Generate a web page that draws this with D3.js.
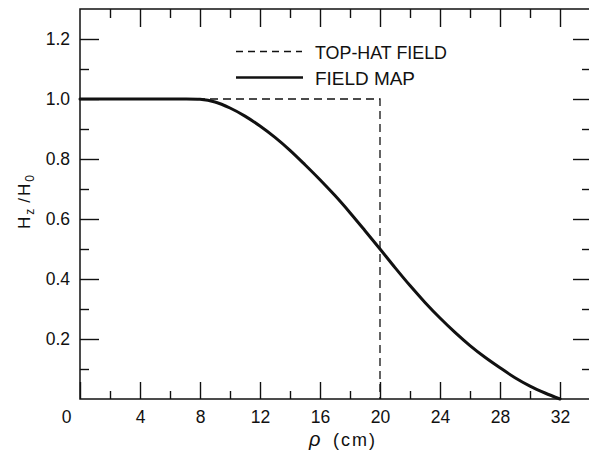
<!DOCTYPE html>
<html>
<head>
<meta charset="utf-8">
<script src="https://cdn.jsdelivr.net/npm/d3@7"></script>
<style>
  html, body { margin: 0; padding: 0; background: #fff; }
  svg { display: block; }
  text { font-family: "Liberation Sans", "DejaVu Sans", sans-serif; fill: #111; }
</style>
</head>
<body>
<svg id="chart" width="589" height="455"></svg>
<script>
// ---- data ----
const rho = [0, 2, 4, 6, 8, 9, 10, 11, 12, 13, 14, 15, 16, 17, 18, 19, 20, 21, 22, 23, 24, 25, 26, 27, 28, 29, 30, 31, 32];
const fieldMap = [1, 1, 1, 1, 0.999, 0.99, 0.97, 0.943, 0.91, 0.872, 0.829, 0.781, 0.731, 0.678, 0.621, 0.561, 0.500, 0.438, 0.378, 0.322, 0.270, 0.222, 0.178, 0.139, 0.104, 0.071, 0.043, 0.020, 0.0];
const topHatRho = [0, 20, 20];
const topHatVal = [1, 1, 0];
const xMajorTicks = [0, 4, 8, 12, 16, 20, 24, 28, 32];
const xMinorTicks = [2, 6, 10, 14, 18, 22, 26, 30];
const yMajorTicks = [0.2, 0.4, 0.6, 0.8, 1.0, 1.2];
const yMinorTicks = [0.1, 0.3, 0.5, 0.7, 0.9, 1.1];
const legendLabels = ["TOP-HAT FIELD", "FIELD MAP"];

// ---- layout ----
const svg = d3.select("#chart");
const L = 80, R = 590, T = 9, B = 399;
const x = d3.scaleLinear().domain([0, 34]).range([L, R]);
const y = d3.scaleLinear().domain([0, 1.3]).range([B, T]);
const ink = "#111";

// frame
svg.append("rect").attr("x", L).attr("y", T).attr("width", R - L).attr("height", B - T)
  .attr("fill", "none").attr("stroke", ink).attr("stroke-width", 1.5);

function styleAxis(g) {
  g.select(".domain").remove();
  g.selectAll(".tick line").attr("stroke", ink).attr("stroke-width", 1.4);
  g.selectAll(".tick text").style("font-size", "17.5px").attr("fill", ink);
}

// bottom axis
const gxB = svg.append("g").attr("transform", `translate(0,${B})`)
  .call(d3.axisBottom(x).tickValues(xMajorTicks).tickSize(-17).tickPadding(12).tickFormat(d3.format("d")))
  .call(styleAxis);
gxB.selectAll(".tick text").filter(d => d === 0).attr("x", -14);
svg.append("g").attr("transform", `translate(0,${B})`)
  .call(d3.axisBottom(x).tickValues(xMinorTicks).tickSize(-8).tickFormat(""))
  .call(styleAxis);
// top axis
svg.append("g").attr("transform", `translate(0,${T})`)
  .call(d3.axisTop(x).tickValues(xMajorTicks.filter(d => d > 0)).tickSize(-18).tickFormat(""))
  .call(styleAxis);
svg.append("g").attr("transform", `translate(0,${T})`)
  .call(d3.axisTop(x).tickValues(xMinorTicks).tickSize(-9).tickFormat(""))
  .call(styleAxis);
// left axis
svg.append("g").attr("transform", `translate(${L},0)`)
  .call(d3.axisLeft(y).tickValues(yMajorTicks).tickSize(-19).tickPadding(10).tickFormat(d3.format(".1f")))
  .call(styleAxis);
svg.append("g").attr("transform", `translate(${L},0)`)
  .call(d3.axisLeft(y).tickValues(yMinorTicks).tickSize(-9).tickFormat(""))
  .call(styleAxis);
// right axis
svg.append("g").attr("transform", `translate(${R},0)`)
  .call(d3.axisRight(y).tickValues(yMajorTicks).tickSize(-17).tickFormat(""))
  .call(styleAxis);
svg.append("g").attr("transform", `translate(${R},0)`)
  .call(d3.axisRight(y).tickValues(yMinorTicks).tickSize(-8).tickFormat(""))
  .call(styleAxis);

// top-hat field (dashed)
const topHat = topHatRho.map((r, i) => [r, topHatVal[i]]);
svg.append("path").datum(topHat)
  .attr("d", d3.line().x(d => x(d[0])).y(d => y(d[1])))
  .attr("fill", "none").attr("stroke", ink).attr("stroke-width", 1.3)
  .attr("stroke-dasharray", "8,5");

// field map (solid)
const fm = rho.map((r, i) => [r, fieldMap[i]]);
svg.append("path").datum(fm)
  .attr("d", d3.line().curve(d3.curveCatmullRom.alpha(0.5)).x(d => x(d[0])).y(d => y(d[1])))
  .attr("fill", "none").attr("stroke", ink).attr("stroke-width", 3)
  .attr("stroke-linejoin", "round").attr("stroke-linecap", "round");

// legend
const lg = svg.append("g");
lg.append("line").attr("x1", 236).attr("x2", 302).attr("y1", 51.5).attr("y2", 51.5)
  .attr("stroke", ink).attr("stroke-width", 1.5).attr("stroke-dasharray", "7,5");
lg.append("line").attr("x1", 236).attr("x2", 303).attr("y1", 77.5).attr("y2", 77.5)
  .attr("stroke", ink).attr("stroke-width", 2.5);
lg.append("text").attr("x", 315).attr("y", 58.5).style("font-size", "19px")
  .attr("textLength", 132).attr("lengthAdjust", "spacingAndGlyphs").text(legendLabels[0]);
lg.append("text").attr("x", 315).attr("y", 84.5).style("font-size", "19px")
  .attr("textLength", 100).attr("lengthAdjust", "spacingAndGlyphs").text(legendLabels[1]);

// x-axis label
svg.append("text").attr("x", 309).attr("y", 446).style("font-size", "20px")
  .style("font-style", "italic").text("ρ");
svg.append("text").attr("x", 333).attr("y", 446).style("font-size", "18px")
  .attr("textLength", 42).attr("lengthAdjust", "spacing").text("(cm)");

// y-axis label
const yl = svg.append("text").attr("transform", "translate(30,173) rotate(-90)")
  .attr("text-anchor", "end").style("font-size", "17px").style("letter-spacing", "2px");
yl.append("tspan").text("H");
yl.append("tspan").attr("dy", 4).style("font-size", "12px").text("z");
yl.append("tspan").attr("dy", -4).attr("dx", 4).text("/H");
yl.append("tspan").attr("dy", 4).style("font-size", "12px").text("0");
</script>
</body>
</html>
